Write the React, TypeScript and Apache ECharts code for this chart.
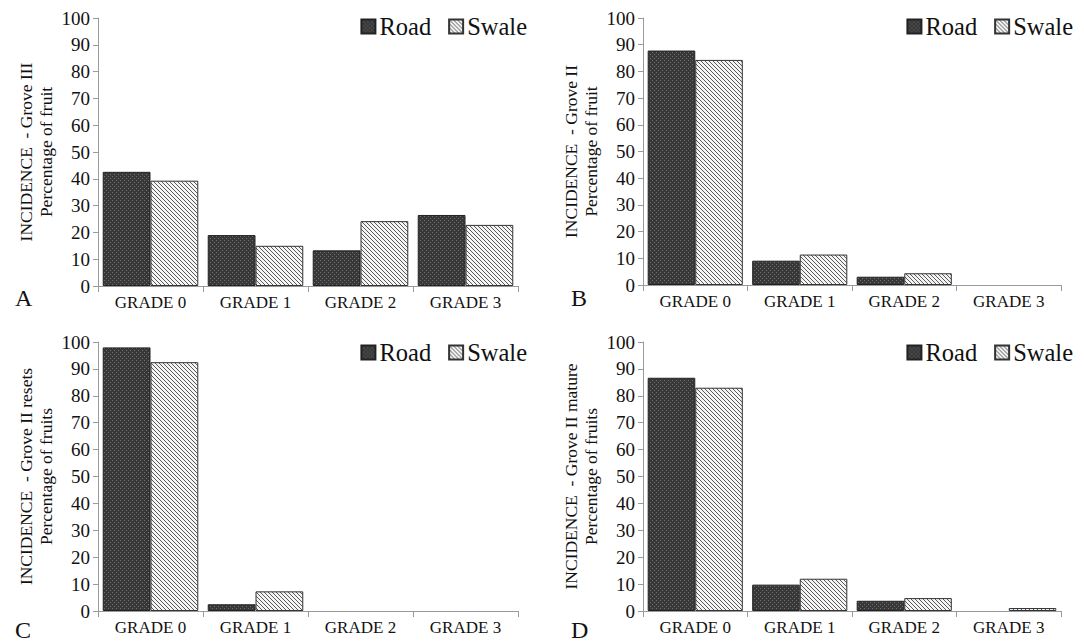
import React, { useEffect, useRef } from "react";
import * as echarts from "echarts";

const categories = ["GRADE 0", "GRADE 1", "GRADE 2", "GRADE 3"];
const seriesNames = ["Road", "Swale"];

const roadA = [42.6, 19.0, 13.3, 26.5];
const swaleA = [39.3, 15.0, 24.2, 22.8];
const roadB = [87.8, 9.1, 3.1, 0];
const swaleB = [84.3, 11.4, 4.4, 0];
const roadC = [98.0, 2.5, 0, 0];
const swaleC = [92.5, 7.3, 0, 0];
const roadD = [86.7, 9.8, 3.8, 0];
const swaleD = [83.0, 12.0, 4.8, 1.1];

const yTitles = [
  ["INCIDENCE  - Grove III", "Percentage of fruit"],
  ["INCIDENCE  - Grove II", "Percentage of fruit"],
  ["INCIDENCE  - Grove II resets", "Percentage of fruits"],
  ["INCIDENCE  - Grove II mature", "Percentage of fruits"],
];
const panelLetters = ["A", "B", "C", "D"];

const FONT = "Liberation Serif";

function roadPattern(): string {
  const c = document.createElement("canvas");
  c.width = 4;
  c.height = 4;
  const ctx = c.getContext("2d")!;
  ctx.fillStyle = "#383838";
  ctx.fillRect(0, 0, 4, 4);
  ctx.fillStyle = "#707070";
  ctx.fillRect(0, 0, 1, 1);
  ctx.fillRect(2, 2, 1, 1);
  return c.toDataURL();
}

function swalePattern(): string {
  const c = document.createElement("canvas");
  c.width = 4;
  c.height = 4;
  const ctx = c.getContext("2d")!;
  ctx.fillStyle = "#f4f4f4";
  ctx.fillRect(0, 0, 4, 4);
  ctx.strokeStyle = "#5a5a5a";
  ctx.lineWidth = 1;
  for (const k of [-4, 0, 4]) {
    ctx.beginPath();
    ctx.moveTo(k - 1, -1);
    ctx.lineTo(k + 5, 5);
    ctx.stroke();
  }
  return c.toDataURL();
}

export default function App() {
  const ref = useRef<HTMLDivElement>(null);

  useEffect(() => {
    if (!ref.current) return;
    const chart = echarts.init(ref.current, null, { renderer: "svg" });

    const roadFill: any = { image: roadPattern(), repeat: "repeat", imageWidth: 4, imageHeight: 4 };
    const swaleFill: any = { image: swalePattern(), repeat: "repeat", imageWidth: 4, imageHeight: 4 };

    const grids = [
      { left: 98, top: 18, width: 420, height: 268 },
      { left: 643, top: 18, width: 418, height: 267 },
      { left: 98, top: 342, width: 420, height: 269 },
      { left: 643, top: 342, width: 418, height: 269 },
    ];
    const roads = [roadA, roadB, roadC, roadD];
    const swales = [swaleA, swaleB, swaleC, swaleD];

    const xAxis = grids.map((_, i) => ({
      type: "category",
      gridIndex: i,
      data: categories,
      axisLine: { lineStyle: { color: "#9a9a9a", width: 1 } },
      axisTick: { show: true, length: 6, lineStyle: { color: "#9a9a9a" } },
      axisLabel: { color: "#111", fontSize: 17, fontFamily: FONT, margin: 8 },
    }));

    const yAxis = grids.map((_, i) => ({
      type: "value",
      gridIndex: i,
      min: 0,
      max: 100,
      interval: 10,
      name: yTitles[i].join("\n"),
      nameLocation: "middle",
      nameGap: 42,
      nameRotate: 90,
      nameTextStyle: { color: "#111", fontSize: 17.5, fontFamily: FONT, lineHeight: 20 },
      axisLine: { show: true, lineStyle: { color: "#9a9a9a", width: 1 } },
      axisTick: { show: true, length: 5, lineStyle: { color: "#9a9a9a" } },
      splitLine: { show: false },
      axisLabel: { color: "#111", fontSize: 19, fontFamily: FONT, margin: 8 },
    }));

    const toItems = (arr: number[]) =>
      arr.map((v) => (v === 0 ? { value: v, itemStyle: { borderWidth: 0 } } : v));

    const series: any[] = [];
    grids.forEach((_, i) => {
      series.push({
        name: seriesNames[0],
        type: "bar",
        xAxisIndex: i,
        yAxisIndex: i,
        data: toItems(roads[i]),
        barGap: "0%",
        barCategoryGap: "9%",
        itemStyle: { color: roadFill, borderColor: "#222", borderWidth: 1 },
      });
      series.push({
        name: seriesNames[1],
        type: "bar",
        xAxisIndex: i,
        yAxisIndex: i,
        data: toItems(swales[i]),
        barGap: "0%",
        barCategoryGap: "9%",
        itemStyle: { color: swaleFill, borderColor: "#333", borderWidth: 1 },
      });
    });

    const legendPos = [
      { right: 552, top: 9 },
      { right: 6, top: 9 },
      { right: 552, top: 335 },
      { right: 6, top: 335 },
    ];
    const legend = legendPos.map((p) => ({
      ...p,
      data: seriesNames,
      icon: "rect",
      itemWidth: 14,
      itemHeight: 14,
      itemGap: 17,
      selectedMode: false,
      textStyle: { color: "#111", fontSize: 24.5, fontFamily: FONT, padding: [0, 0, 0, -1] },
    }));

    const letterPos = [
      [15, 286],
      [571, 286],
      [15, 618],
      [571, 618],
    ];
    const graphic = panelLetters.map((t, i) => ({
      type: "text",
      left: letterPos[i][0],
      top: letterPos[i][1],
      style: { text: t, fontSize: 24, fontFamily: FONT, fill: "#111" },
    }));

    chart.setOption({
      animation: false,
      backgroundColor: "#fff",
      textStyle: { fontFamily: FONT },
      grid: grids,
      xAxis,
      yAxis,
      series,
      legend,
      graphic,
    });

    return () => chart.dispose();
  }, []);

  return (
    <div
      ref={ref}
      style={{ position: "fixed", left: 0, top: 0, width: 1084, height: 642 }}
    />
  );
}
